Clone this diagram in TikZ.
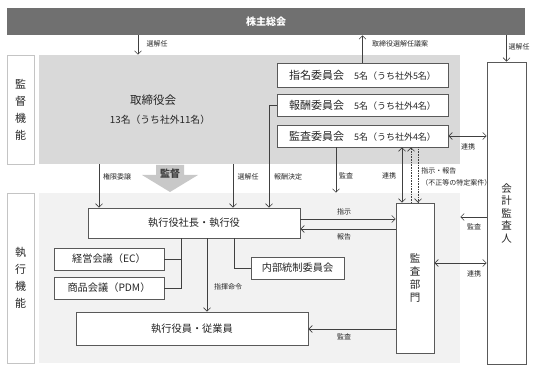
\documentclass[tikz,border=0pt]{standalone}
\usepackage{fontspec}
\setmainfont{Noto Sans CJK JP}
\usetikzlibrary{arrows.meta}
\definecolor{barfill}{HTML}{707070}
\definecolor{boardfill}{HTML}{D9D9D9}
\definecolor{execfill}{HTML}{F2F2F2}
\definecolor{boxline}{HTML}{595959}
\definecolor{sideline}{HTML}{C4C4C4}
\definecolor{arrowline}{HTML}{404040}
\definecolor{labeltext}{HTML}{262626}
\definecolor{bigarrow}{HTML}{C8C8C8}
\newcommand{\memberfont}{\fontsize{9}{10}\selectfont}

\begin{document}
\begin{tikzpicture}[x=1pt,y=-1pt,line width=0.6pt,
	area/.style={inner sep=0pt},
	box/.style={draw=boxline,fill=white,inner sep=0pt,line width=0.8pt,align=center,text=labeltext,font=\fontsize{10.2}{12.5}\selectfont},
	side/.style={draw=sideline,fill=white,inner sep=0pt,minimum width=27pt,align=center,text=labeltext,font=\fontsize{11}{17}\selectfont},
	committee/.style={box,minimum width=171pt,font=\fontsize{11}{13}\selectfont},
	lbl/.style={inner sep=1pt,text=labeltext,font=\fontsize{7}{12}\selectfont},
	arr/.style={draw=arrowline,-{Straight Barb[length=3.5pt,width=7pt]}},
	dblarr/.style={draw=arrowline,{Straight Barb[length=3.5pt,width=7pt]}-{Straight Barb[length=3.5pt,width=7pt]}},
	dotarr/.style={arr,densely dotted},
	link/.style={draw=arrowline}
	]
	\useasboundingbox (0,0) rectangle (538,371);

	\node[area,fill=barfill,minimum width=518pt,minimum height=27pt,text=white,font=\bfseries\fontsize{10}{12}\selectfont] (shareholders) at (266,21.5) {株主総会};

	\node[side,minimum height=109pt] (supervise) at (20.5,109.5) {監\\督\\機\\能};
	\node[area,fill=boardfill,minimum width=421pt,minimum height=109pt] (board) at (249.5,109.5) {};
	\node[text=labeltext,font=\fontsize{11.5}{13}\selectfont] (boardname) at (153,100) {取締役会};
	\node[text=labeltext,font=\fontsize{9.8}{11}\selectfont] (boardsize) at (160,120) {13名（うち社外11名）};

	\node[committee,minimum height=24pt] (nominate) at (362.5,75) {指名委員会\hspace{10pt}{\memberfont 5名（うち社外5名）}};
	\node[committee,minimum height=22pt] (remun) at (362.5,105) {報酬委員会\hspace{10pt}{\memberfont 5名（うち社外4名）}};
	\node[committee,minimum height=22pt] (auditcom) at (362.5,136) {監査委員会\hspace{10pt}{\memberfont 5名（うち社外4名）}};

	\node[side,minimum height=170pt] (execute) at (20.5,278) {執\\行\\機\\能};
	\node[area,fill=execfill,minimum width=421pt,minimum height=170pt] (exec) at (249.5,278) {};

	\node[box,minimum width=212pt,minimum height=30pt] (president) at (194,223) {執行役社長・執行役};
	\node[box,minimum width=110pt,minimum height=22pt] (ec) at (109,259) {経営会議（EC）};
	\node[box,minimum width=110pt,minimum height=22pt] (pdm) at (109,288) {商品会議（PDM）};
	\node[box,minimum width=93pt,minimum height=22pt] (intctrl) at (297.5,268) {内部統制委員会};
	\node[box,minimum width=232pt,minimum height=33pt] (staff) at (192,328.5) {執行役員・従業員};
	\node[box,minimum width=38pt,minimum height=150pt,font=\fontsize{10.5}{13}\selectfont] (auditdept) at (415,278) {監\\査\\部\\門};
	\node[box,minimum width=39pt,minimum height=302pt,font=\fontsize{10.5}{12.5}\selectfont] (auditor) at (506.5,213) {会\\計\\監\\査\\人};

	\fill[bigarrow] (156,165) -- (184,165) -- (184,175) -- (198,175) -- (170,192) -- (142,175) -- (156,175) -- cycle;
	\node[text=arrowline,font=\bfseries\fontsize{10}{12}\selectfont] (supervisemark) at (170,174) {監督};

	\draw[arr] (138,0 |- shareholders.south) -- (138,0 |- board.north);
	\node[lbl] (lblelect) at (157,44) {選解任};
	\draw[arr] (nominate.north) -- (nominate.north |- shareholders.south);
	\node[lbl] (lblproposal) at (400,44) {取締役選解任議案};
	\draw[arr] (shareholders.south -| auditor.north) -- (auditor.north);
	\node[lbl] (lblelectauditor) at (519,47) {選解任};
	\draw[dblarr] (auditcom.east) -- (auditcom.east -| auditor.west);
	\node[lbl] (lbllinkcom) at (468,147) {連携};

	\draw[arr] (99,0 |- board.south) -- (99,0 |- president.north);
	\node[lbl] (lbldelegate) at (117,177) {権限委譲};
	\draw[arr] (233,0 |- board.south) -- (233,0 |- president.north);
	\node[lbl] (lblelectexec) at (248,177) {選解任};
	\draw[arr] (remun.west) -| (269,0 |- president.north);
	\node[lbl] (lblpay) at (288,177) {報酬決定};

	\draw[arr] (336,0 |- auditcom.south) -- (336,0 |- exec.north);
	\node[lbl] (lblauditexec) at (346,176) {監査};
	\draw[dblarr] (402,0 |- auditcom.south) -- (402,0 |- auditdept.north);
	\node[lbl] (lbllinkdept) at (389,176) {連携};
	\draw[dotarr] (411,0 |- auditdept.north) -- (411,0 |- auditcom.south);
	\draw[dotarr] (418,0 |- auditcom.south) -- (418,0 |- auditdept.north);
	\node[lbl,anchor=west,align=left] (lblspecial) at (420,177) {指示・報告\\（不正等の特定案件）};

	\draw[arr] (president.east |- 0,219) -- (auditdept.west |- 0,219);
	\node[lbl] (lblorder) at (344,212) {指示};
	\draw[arr] (auditdept.west |- 0,229) -- (president.east |- 0,229);
	\node[lbl] (lblreport) at (344,237) {報告};
	\draw[arr] (auditor.west |- 0,217) -- (exec.east |- 0,217);
	\node[lbl] (lblauditcorp) at (474,227) {監査};
	\draw[dblarr] (auditdept.east |- 0,263) -- (auditor.west |- 0,263);
	\node[lbl] (lbllinkacc) at (474,274) {連携};
	\draw[arr] (auditdept.west |- 0,329) -- (staff.east |- 0,329);
	\node[lbl] (lblauditstaff) at (344,337) {監査};

	\draw[arr] (207,0 |- president.south) -- (207,0 |- staff.north);
	\node[lbl] (lblcommand) at (228,287) {指揮命令};
	\draw[link] (ec.east) -| (181,0 |- president.south);
	\draw[link] (pdm.east) -| (181,0 |- president.south);
	\draw[link] (234,0 |- president.south) |- (intctrl.west);
\end{tikzpicture}
\end{document}
